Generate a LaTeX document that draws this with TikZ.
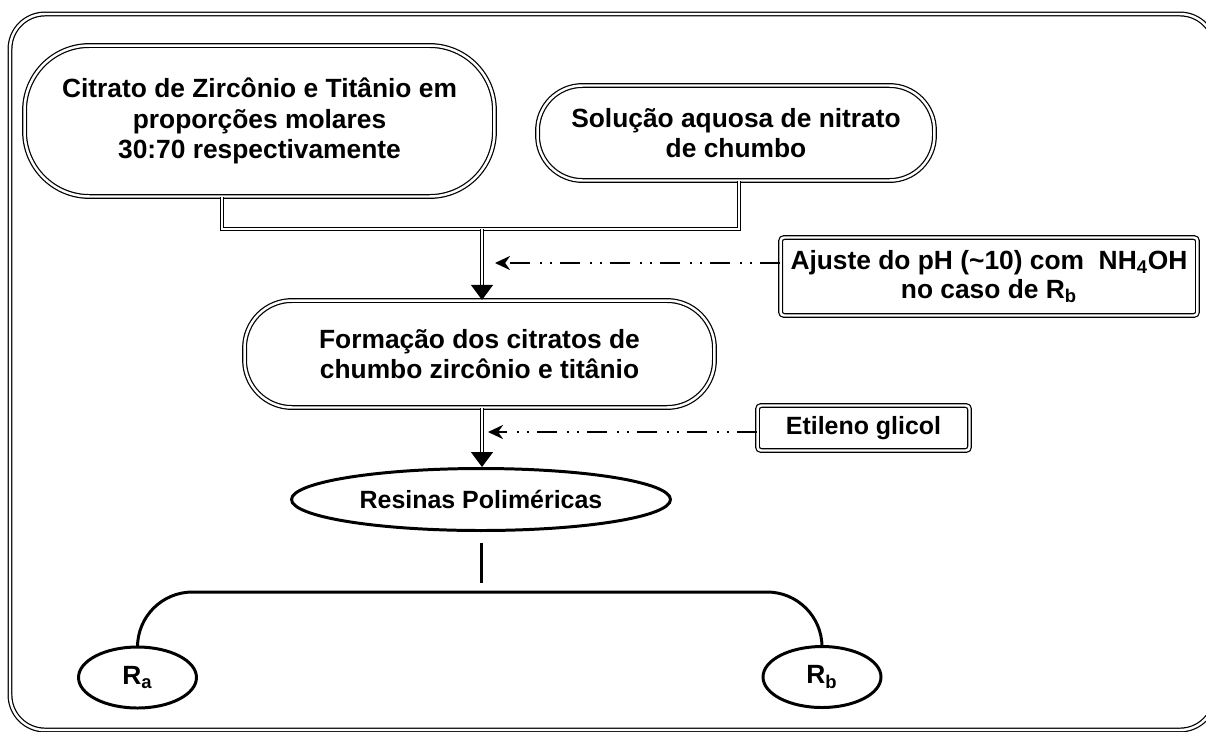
\documentclass[tikz,border=0pt]{standalone}
\usepackage{fontspec}
\setmainfont{Liberation Sans}
\usetikzlibrary{shapes,arrows.meta,positioning,calc}

\begin{document}
\begin{tikzpicture}[x=0.02cm,y=-0.02cm,
    dbl/.style={double,line width=0.7pt,double distance=1.4pt},
    link/.style={double,line width=0.8pt,double distance=1pt},
    pill/.style={dbl,draw,rectangle,align=center,inner sep=0pt,font=\bfseries\fontsize{15}{17.5}\selectfont},
    tag/.style={dbl,draw,rectangle,rounded corners=2pt,align=center,inner sep=0pt,font=\bfseries\fontsize{15}{16.5}\selectfont},
    oval/.style={draw,ellipse,line width=1.7pt,inner sep=0pt,font=\bfseries\fontsize{15}{17}\selectfont},
    dashdot/.style={line width=1.5pt,dash pattern=on 0.4cm off 0.16cm on 0.04cm off 0.16cm on 0.04cm off 0.2cm,-{Stealth[length=0.3cm,width=0.28cm]}},
    down/.style={link,-{Triangle[length=0.3cm,width=0.44cm]}},
    heavy/.style={line width=1.7pt}]
    \useasboundingbox (0,0) rectangle (1206,731);
    \clip (0,0) rectangle (1206,731);
    % outer frame
    \draw[dbl,rounded corners=0.7cm] (10,14) rectangle (1215,730);

    % starting solutions
    \node[pill,rounded corners=1.3cm,minimum width=9.4cm,minimum height=3.02cm] (cit) at (259.5,121)
        {Citrato de Zircônio e Titânio em\\ proporções molares\\ 30:70 respectivamente};
    \node[pill,rounded corners=0.9cm,minimum width=7.94cm,minimum height=1.9cm] (sol) at (736,133)
        {Solução aquosa de nitrato\\ de chumbo};
    \coordinate (jl) at (222,229);
    \coordinate (jr) at (739,229);
    \coordinate (mix) at (482,229);
    \draw[link] (cit.south -| jl) -- (jl) -- (jr) -- (sol.south -| jr);

    % pH step
    \node[tag,minimum width=8.34cm,minimum height=1.56cm] (ajuste) at (989,276.5)
        {Ajuste do pH (\textasciitilde10) com\ \ NH\textsubscript{4}OH\\ no caso de R\textsubscript{b}};
    \node[pill,rounded corners=0.95cm,minimum width=9.4cm,minimum height=2.14cm] (form) at (479.5,354)
        {Formação dos citratos de\\ chumbo zircônio e titânio};
    \coordinate (ph) at (495,263);
    \draw[down] (mix) -- (form.north -| mix);
    \draw[dashdot] (ajuste.west |- ph) -- (ph);

    % polymerisation
    \node[tag,minimum width=4.24cm,minimum height=0.9cm,font=\bfseries\fontsize{14.2}{16}\selectfont] (etil) at (863.5,428) {Etileno glicol};
    \node[oval,minimum width=7.58cm,minimum height=1.24cm,font=\bfseries\fontsize{14.2}{16}\selectfont] (res) at (481,499.5) {Resinas Poliméricas};
    \coordinate (eg) at (488,432);
    \draw[down] (form.south -| mix) -- (res.north -| mix);
    \draw[dashdot] (etil.west |- eg) -- (eg);

    % the two resins
    \node[oval,minimum width=2.36cm,minimum height=1.22cm] (ra) at (137.5,677.5) {R\textsubscript{a}};
    \node[oval,minimum width=2.36cm,minimum height=1.22cm] (rb) at (822,677) {R\textsubscript{b}};
    \coordinate (stem) at (481,583);
    \coordinate (bar) at (481,592);
    \draw[heavy] ([yshift=-0.22cm]res.south) -- (stem);
    \draw[heavy,rounded corners=1.1cm] (ra.north) |- (bar) -| (rb.north);
\end{tikzpicture}
\end{document}
